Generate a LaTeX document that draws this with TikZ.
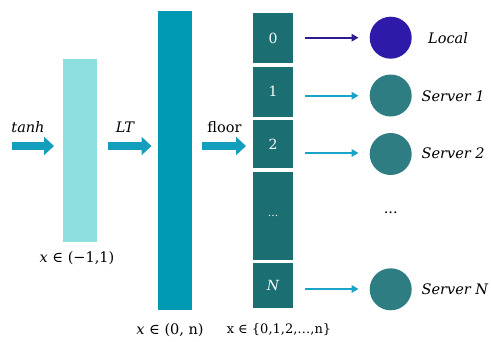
\documentclass[tikz,border=0pt]{standalone}
\usepackage{fontspec}
\setmainfont{DejaVu Serif}
\usetikzlibrary{arrows.meta}
\definecolor{lightc}{HTML}{8EE0E0}
\definecolor{bigc}{HTML}{0099B3}
\definecolor{cellc}{HTML}{1B6E72}
\definecolor{circc}{HTML}{2E7D82}
\definecolor{localc}{HTML}{2E1AA8}
\definecolor{arrc}{HTML}{1AA3C8}
\definecolor{thickc}{HTML}{139EBE}
\definecolor{localarr}{HTML}{2E1A8E}
\tikzset{
  cell/.style={fill=cellc, draw=none, inner sep=0pt, minimum width=40.6pt, text=white, font=\fontsize{14}{16}\selectfont},
  srv/.style={circle, fill=circc, draw=none, minimum size=42pt, inner sep=0pt},
  lbl/.style={font=\fontsize{14.5}{16}\selectfont\itshape, inner sep=0pt},
  rlbl/.style={font=\fontsize{14.5}{16}\selectfont, inner sep=0pt},
  bigarrow/.style={draw=thickc, line width=8pt, -{Triangle[length=10pt,width=18pt]}},
  smallarrow/.style={draw=arrc, line width=2.4pt, -{Triangle[length=7pt,width=7.5pt]}},
}
\begin{document}
\begin{tikzpicture}[x=1pt,y=-1pt]
\useasboundingbox (0,0) rectangle (491,341);
% bars
\fill[lightc] (63.3,59.3) rectangle (97,242);
\fill[bigc] (157.7,11.3) rectangle (191.7,310);
% cells
\node[cell, minimum height=50.6pt] (c0) at (273,38) {0};
\node[cell, minimum height=50pt] (c1) at (273,91.7) {1};
\node[cell, minimum height=48pt] (c2) at (273,144) {2};
\node[cell, minimum height=88.3pt] (cd) at (273,215.8) {\fontsize{11}{12}\selectfont ...};
\node[cell, minimum height=45.6pt] (cn) at (273,285.5) {\itshape N};
% circles
\node[srv, fill=localc] (s0) at (390.7,37.7) {};
\node[srv] (s1) at (390.7,95.5) {};
\node[srv] (s2) at (390.7,154) {};
\node[srv] (sn) at (390.7,289.3) {};
\node[rlbl] (sd) at (390.7,213) {...};
% server labels
\node[lbl, anchor=west] (l0) at (428,38) {Local};
\node[lbl, anchor=west] (l1) at (421.5,96) {Server 1};
\node[lbl, anchor=west] (l2) at (421.5,153) {Server 2};
\node[lbl, anchor=west] (ln) at (421.5,289.5) {Server N};
% thin arrows
\coordinate (a0) at (305,37.7);
\coordinate (b0) at (358.5,37.7);
\draw[smallarrow, draw=localarr] (a0) -- (b0);
\coordinate (a1) at (305,95.7);
\coordinate (b1) at (358.5,95.7);
\draw[smallarrow] (a1) -- (b1);
\coordinate (a2) at (305,153);
\coordinate (b2) at (358.5,153);
\draw[smallarrow] (a2) -- (b2);
\coordinate (an) at (305,289);
\coordinate (bn) at (358.5,289);
\draw[smallarrow] (an) -- (bn);
% thick arrows
\coordinate (t1a) at (12,146);
\coordinate (t1b) at (54,146);
\draw[bigarrow] (t1a) -- (t1b);
\coordinate (t2a) at (108,146);
\coordinate (t2b) at (151.5,146);
\draw[bigarrow] (t2a) -- (t2b);
\coordinate (t3a) at (202,146);
\coordinate (t3b) at (246,146);
\draw[bigarrow] (t3a) -- (t3b);
% labels above thick arrows
\node[lbl] (tanh) at (28,127) {tanh};
\node[lbl] (lt) at (125,127) {LT};
\node[rlbl] (fl) at (224.5,127) {floor};
% labels below bars
\node[rlbl] (r1) at (77,258) {\textit{x} ∈ (−1,1)};
\node[rlbl] (r2) at (170,330) {\textit{x} ∈ (0, n)};
\node[rlbl, font=\fontsize{13}{15}\selectfont] (r3) at (279,330) {x ∈ \{0,1,2,…,n\}};
\end{tikzpicture}
\end{document}
